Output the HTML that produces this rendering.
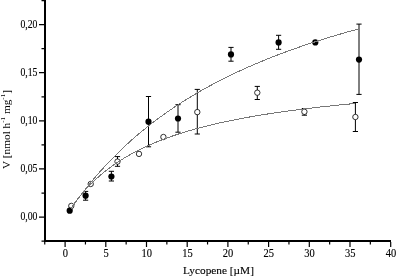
<!DOCTYPE html>
<html><head><meta charset="utf-8"><style>
html,body{margin:0;padding:0;background:#fff;}
body{width:396px;height:276px;overflow:hidden;}
svg{display:block;will-change:transform;font-family:"Liberation Serif",serif;}
</style></head><body>
<svg width="396" height="276" viewBox="0 0 396 276">
<rect width="396" height="276" fill="#fff"/>
<path d="M85.60 191.40V200.20M83.00 191.40H88.20M83.00 200.20H88.20" stroke="#000" stroke-width="1" fill="none"/><path d="M111.40 171.30V181.00M108.80 171.30H114.00M108.80 181.00H114.00" stroke="#000" stroke-width="1" fill="none"/><path d="M148.50 96.50V146.80M145.90 96.50H151.10M145.90 146.80H151.10" stroke="#000" stroke-width="1" fill="none"/><path d="M178.00 104.70V132.20M175.40 104.70H180.60M175.40 132.20H180.60" stroke="#000" stroke-width="1" fill="none"/><path d="M231.00 47.40V61.20M228.40 47.40H233.60M228.40 61.20H233.60" stroke="#000" stroke-width="1" fill="none"/><path d="M278.60 35.30V49.30M276.00 35.30H281.20M276.00 49.30H281.20" stroke="#000" stroke-width="1" fill="none"/><path d="M359.00 24.10V94.40M356.40 24.10H361.60M356.40 94.40H361.60" stroke="#000" stroke-width="1" fill="none"/><path d="M117.50 156.60V166.30M114.90 156.60H120.10M114.90 166.30H120.10" stroke="#000" stroke-width="1" fill="none"/><path d="M197.30 89.40V134.00M194.70 89.40H199.90M194.70 134.00H199.90" stroke="#000" stroke-width="1" fill="none"/><path d="M257.30 86.40V99.50M254.70 86.40H259.90M254.70 99.50H259.90" stroke="#000" stroke-width="1" fill="none"/><path d="M304.40 108.50V115.20M301.80 108.50H307.00M301.80 115.20H307.00" stroke="#000" stroke-width="1" fill="none"/><path d="M355.40 102.50V131.50M352.80 102.50H358.00M352.80 131.50H358.00" stroke="#000" stroke-width="1" fill="none"/><circle cx="71.30" cy="205.90" r="2.70" fill="#fff" stroke="#000" stroke-width="0.8"/><circle cx="90.70" cy="184.00" r="2.70" fill="#fff" stroke="#000" stroke-width="0.8"/><circle cx="117.50" cy="161.60" r="2.70" fill="#fff" stroke="#000" stroke-width="0.8"/><circle cx="139.00" cy="153.90" r="2.70" fill="#fff" stroke="#000" stroke-width="0.8"/><circle cx="163.40" cy="137.00" r="2.70" fill="#fff" stroke="#000" stroke-width="0.8"/><circle cx="197.30" cy="112.10" r="2.70" fill="#fff" stroke="#000" stroke-width="0.8"/><circle cx="257.30" cy="92.70" r="2.70" fill="#fff" stroke="#000" stroke-width="0.8"/><circle cx="304.40" cy="111.80" r="2.70" fill="#fff" stroke="#000" stroke-width="0.8"/><circle cx="355.40" cy="117.00" r="2.70" fill="#fff" stroke="#000" stroke-width="0.8"/><circle cx="69.70" cy="210.70" r="3.10" fill="#000"/><circle cx="85.60" cy="195.70" r="3.10" fill="#000"/><circle cx="111.40" cy="176.50" r="3.10" fill="#000"/><circle cx="148.50" cy="121.70" r="3.10" fill="#000"/><circle cx="178.00" cy="118.50" r="3.10" fill="#000"/><circle cx="231.00" cy="54.40" r="3.10" fill="#000"/><circle cx="278.60" cy="42.40" r="3.10" fill="#000"/><circle cx="315.30" cy="42.40" r="3.10" fill="#000"/><circle cx="359.00" cy="59.60" r="3.10" fill="#000"/><polyline points="70.80,209.03 74.44,203.83 78.09,198.80 81.73,193.94 85.38,189.22 89.03,184.65 92.67,180.22 96.32,175.92 99.96,171.75 103.61,167.69 107.25,163.76 110.90,159.93 114.54,156.21 118.19,152.59 121.83,149.07 125.48,145.65 129.13,142.31 132.77,139.06 136.42,135.90 140.06,132.81 143.71,129.80 147.35,126.86 151.00,124.00 154.64,121.21 158.29,118.48 161.94,115.82 165.58,113.21 169.23,110.67 172.87,108.19 176.52,105.76 180.16,103.38 183.81,101.06 187.45,98.79 191.10,96.57 194.74,94.39 198.39,92.26 202.04,90.18 205.68,88.13 209.33,86.13 212.97,84.17 216.62,82.25 220.26,80.37 223.91,78.52 227.55,76.71 231.20,74.93 234.84,73.19 238.49,71.48 242.14,69.81 245.78,68.16 249.43,66.54 253.07,64.96 256.72,63.40 260.36,61.87 264.01,60.37 267.65,58.89 271.30,57.44 274.95,56.01 278.59,54.61 282.24,53.23 285.88,51.88 289.53,50.55 293.17,49.23 296.82,47.95 300.46,46.68 304.11,45.43 307.75,44.20 311.40,43.00 315.05,41.81 318.69,40.64 322.34,39.48 325.98,38.35 329.63,37.23 333.27,36.13 336.92,35.05 340.56,33.98 344.21,32.93 347.85,31.89 351.50,30.87 355.15,29.87 358.79,28.87" fill="none" stroke="#777" stroke-width="1" shape-rendering="crispEdges"/><polyline points="71.12,208.06 74.72,202.98 78.31,198.26 81.90,193.85 85.49,189.74 89.08,185.89 92.68,182.27 96.27,178.87 99.86,175.67 103.45,172.65 107.04,169.79 110.63,167.09 114.23,164.53 117.82,162.09 121.41,159.78 125.00,157.58 128.59,155.48 132.19,153.48 135.78,151.57 139.37,149.74 142.96,147.99 146.55,146.32 150.15,144.71 153.74,143.17 157.33,141.69 160.92,140.27 164.51,138.90 168.11,137.58 171.70,136.31 175.29,135.09 178.88,133.91 182.47,132.77 186.06,131.67 189.66,130.61 193.25,129.58 196.84,128.59 200.43,127.62 204.02,126.69 207.62,125.79 211.21,124.91 214.80,124.06 218.39,123.24 221.98,122.44 225.58,121.66 229.17,120.91 232.76,120.17 236.35,119.46 239.94,118.77 243.53,118.09 247.13,117.43 250.72,116.79 254.31,116.17 257.90,115.56 261.49,114.97 265.09,114.39 268.68,113.83 272.27,113.28 275.86,112.74 279.45,112.21 283.05,111.70 286.64,111.20 290.23,110.71 293.82,110.24 297.41,109.77 301.01,109.31 304.60,108.87 308.19,108.43 311.78,108.00 315.37,107.58 318.96,107.17 322.56,106.77 326.15,106.38 329.74,105.99 333.33,105.62 336.92,105.25 340.52,104.88 344.11,104.53 347.70,104.18 351.29,103.84 354.88,103.50" fill="none" stroke="#777" stroke-width="1" shape-rendering="crispEdges"/>
<path d="M45 0V241M44 241H391" stroke="#000" stroke-width="2" fill="none"/><path d="M41.50 241.16H44M39.00 217.10H44M41.50 193.04H44M39.00 168.97H44M41.50 144.91H44M39.00 120.85H44M41.50 96.79H44M39.00 72.72H44M41.50 48.66H44M39.00 24.60H44M41.50 0.54H44M44.75 242V244.50M65.10 242V247.00M85.45 242V244.50M105.80 242V247.00M126.15 242V244.50M146.50 242V247.00M166.85 242V244.50M187.20 242V247.00M207.55 242V244.50M227.90 242V247.00M248.25 242V244.50M268.60 242V247.00M288.95 242V244.50M309.30 242V247.00M329.65 242V244.50M350.00 242V247.00M370.35 242V244.50M390.70 242V247.00" stroke="#000" stroke-width="1.2" fill="none"/>
<g font-size="10.5" fill="#000" stroke="#000" stroke-width="0.12"><text transform="translate(37.5,220.30) scale(0.93,1.12)" text-anchor="end">0,00</text><text transform="translate(37.5,172.17) scale(0.93,1.12)" text-anchor="end">0,05</text><text transform="translate(37.5,124.05) scale(0.93,1.12)" text-anchor="end">0,10</text><text transform="translate(37.5,75.92) scale(0.93,1.12)" text-anchor="end">0,15</text><text transform="translate(37.5,27.80) scale(0.93,1.12)" text-anchor="end">0,20</text><text transform="translate(65.30,256.8) scale(1,1.12)" text-anchor="middle">0</text><text transform="translate(106.00,256.8) scale(1,1.12)" text-anchor="middle">5</text><text transform="translate(146.70,256.8) scale(1,1.12)" text-anchor="middle">10</text><text transform="translate(187.40,256.8) scale(1,1.12)" text-anchor="middle">15</text><text transform="translate(228.10,256.8) scale(1,1.12)" text-anchor="middle">20</text><text transform="translate(268.80,256.8) scale(1,1.12)" text-anchor="middle">25</text><text transform="translate(309.50,256.8) scale(1,1.12)" text-anchor="middle">30</text><text transform="translate(350.20,256.8) scale(1,1.12)" text-anchor="middle">35</text><text transform="translate(390.90,256.8) scale(1,1.12)" text-anchor="middle">40</text></g>
<text x="218.5" y="273.6" text-anchor="middle" font-size="11.3" stroke="#000" stroke-width="0.12">Lycopene [&#181;M]</text>
<text transform="translate(10,129.5) rotate(-90)" text-anchor="middle" font-size="11.3">V [nmol h<tspan dy="-5.5" font-size="7">-1</tspan><tspan dy="5.5"> mg</tspan><tspan dy="-5.5" font-size="7">-1</tspan><tspan dy="5.5">]</tspan></text>
</svg>
</body></html>
